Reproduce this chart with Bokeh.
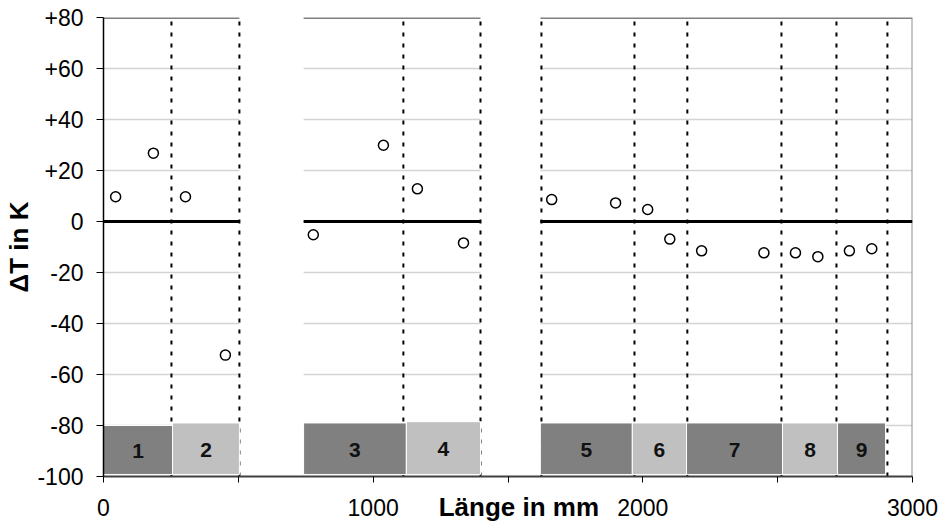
from bokeh.plotting import figure
from bokeh.models import FixedTicker, ColumnDataSource, Range1d
from bokeh.core.properties import value
from bokeh.embed import file_html
from bokeh.resources import INLINE

# ---- data ----
x_pos = [45, 185, 304, 452, 778, 1038, 1164, 1335, 1662, 1899, 2018, 2100, 2218, 2449, 2566, 2649, 2766, 2849]
delta_t = [9.7, 26.8, 9.7, -52.4, -5.2, 29.9, 12.8, -8.4, 8.6, 7.3, 4.7, -6.9, -11.5, -12.3, -12.3, -13.8, -11.5, -10.7]

zone_labels = ["1", "2", "3", "4", "5", "6", "7", "8", "9"]
zone_start = [0, 256, 742, 1123, 1620, 1961, 2162, 2518, 2722]
zone_end = [256, 504, 1123, 1398, 1961, 2162, 2518, 2722, 2900]
zone_top = [-80, -79, -79, -78.5, -79, -79, -79, -79, -79]
zone_shade = ["dark", "light", "dark", "light", "dark", "light", "dark", "light", "dark"]

boundaries = [252, 504, 1112, 1398, 1624, 1969, 2165, 2514, 2718, 2907]
gap_start = [504, 1398]
gap_end = [742, 1620]

x_ticks = [0, 500, 1000, 1500, 2000, 2500, 3000]
x_tick_labels = ["0", "", "1000", "", "2000", "", "3000"]
y_ticks = [80, 60, 40, 20, 0, -20, -40, -60, -80, -100]
y_tick_labels = ["+80", "+60", "+40", "+20", "0", "-20", "-40", "-60", "-80", "-100"]

X_MIN, X_MAX = 0, 3000
Y_MIN, Y_MAX = -100, 80

FONT = "Liberation Sans"

p = figure(width=943, height=528, output_backend="svg", toolbar_location=None,
           x_range=Range1d(X_MIN, X_MAX), y_range=Range1d(Y_MIN, Y_MAX),
           min_border_left=103, min_border_right=31, min_border_top=17, min_border_bottom=52)
p.outline_line_color = None
p.xgrid.visible = False
p.ygrid.visible = False
p.background_fill_color = "white"

# plot-area segments (outside gaps)
seg_x0 = [X_MIN] + gap_end
seg_x1 = gap_start + [X_MAX]

# gridlines
gx0, gx1, gy = [], [], []
for yv in y_ticks:
    if yv in (Y_MIN, Y_MAX, 0):
        continue
    for a, b in zip(seg_x0, seg_x1):
        gx0.append(a); gx1.append(b); gy.append(yv)
p.segment(x0=gx0, y0=gy, x1=gx1, y1=gy, line_color="#D4D4D4", line_width=1.5)

# top border
p.segment(x0=seg_x0, y0=[Y_MAX] * len(seg_x0), x1=seg_x1, y1=[Y_MAX] * len(seg_x0),
          line_color="#808080", line_width=3)
# right border
p.segment(x0=[X_MAX], y0=[Y_MIN], x1=[X_MAX], y1=[Y_MAX], line_color="#909090", line_width=2)

# dotted boundaries
p.segment(x0=boundaries, y0=[Y_MIN] * len(boundaries), x1=boundaries, y1=[Y_MAX] * len(boundaries),
          line_color="black", line_width=2, line_dash="4 7")

# zero line
p.segment(x0=seg_x0, y0=[0] * len(seg_x0), x1=seg_x1, y1=[0] * len(seg_x0),
          line_color="black", line_width=3)

# zone bars
colors = ["#808080" if s == "dark" else "#C0C0C0" for s in zone_shade]
zsrc = ColumnDataSource(dict(left=zone_start, right=zone_end, top=zone_top,
                             bottom=[Y_MIN + 0.8] * len(zone_start), color=colors,
                             xm=[(a + b) / 2 for a, b in zip(zone_start, zone_end)],
                             ym=[(t + Y_MIN) / 2 for t in zone_top], label=zone_labels))
p.quad(left="left", right="right", top="top", bottom="bottom", fill_color="color",
       line_color="white", line_width=1, source=zsrc)
p.text(x="xm", y="ym", text="label", source=zsrc, text_align="center", text_baseline="middle",
       text_font=value(FONT), text_font_style="bold", text_font_size="21px", text_color="#111111")

# data points
p.scatter(x_pos, delta_t, marker="circle", size=10, fill_color="white",
          line_color="black", line_width=1.5)

# axes
xa = p.xaxis[0]
xa.ticker = FixedTicker(ticks=x_ticks)
xa.major_label_overrides = {t: l for t, l in zip(x_ticks, x_tick_labels)}
xa.minor_tick_line_color = None
xa.major_tick_out = 6
xa.major_tick_in = 0
xa.axis_line_color = "#404040"
xa.axis_line_width = 2
xa.major_tick_line_color = "black"
xa.major_label_text_font = FONT
xa.major_label_text_font_size = "23px"
xa.major_label_text_color = "black"
xa.major_label_standoff = 16
xa.axis_label = "\u00a0\u00a0\u00a0Länge in mm"
xa.axis_label_text_font = FONT
xa.axis_label_text_font_style = "bold"
xa.axis_label_text_font_size = "26px"
xa.axis_label_text_color = "black"
xa.axis_label_standoff = -27

ya = p.yaxis[0]
ya.ticker = FixedTicker(ticks=y_ticks)
ya.major_label_overrides = {t: l for t, l in zip(y_ticks, y_tick_labels)}
ya.minor_tick_line_color = None
ya.major_tick_out = 7
ya.major_tick_in = 0
ya.axis_line_color = "black"
ya.axis_line_width = 1.5
ya.major_label_text_font = FONT
ya.major_label_text_font_size = "23px"
ya.major_label_text_color = "black"
ya.major_label_standoff = 13
ya.axis_label = "ΔT in K"
ya.axis_label_text_font = FONT
ya.axis_label_text_font_style = "bold"
ya.axis_label_text_font_size = "26px"
ya.axis_label_text_color = "black"
ya.axis_label_standoff = 0

open("out.html", "w").write(file_html(p, INLINE))
